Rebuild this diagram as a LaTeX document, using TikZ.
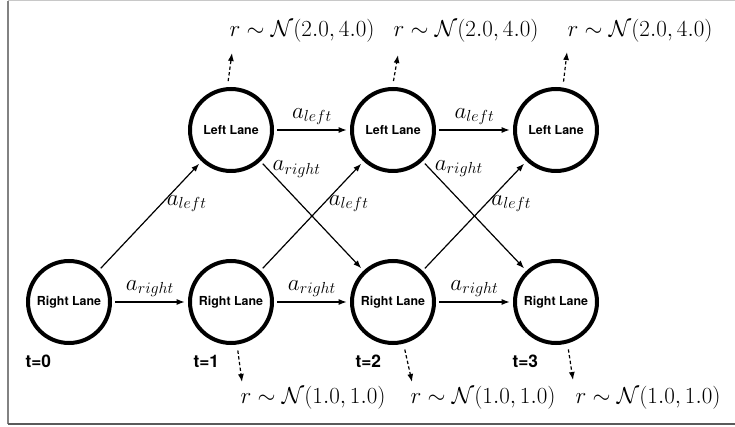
\documentclass[tikz,border=0pt]{standalone}
\usepackage{fontspec}
\newfontfamily\helv{TeX Gyre Heros}
\usetikzlibrary{arrows.meta}

\tikzset{every picture/.style={line width=0.75pt}}

\begin{document}
\begin{tikzpicture}[x=0.75pt,y=0.75pt,yscale=-1,xscale=1,
  lane/.style={draw,circle,line width=3pt,minimum size=61.5pt,inner sep=0pt,outer sep=4pt,font=\helv\bfseries\fontsize{9.3}{11}\selectfont},
  act/.style={-{Latex[length=6pt,width=4.5pt]},line width=0.9pt},
  rew/.style={act,dash pattern=on 2.5pt off 1.8pt,shorten <=2pt},
  lbl/.style={font=\fontsize{16.5}{19}\selectfont},
  rlbl/.style={lbl,inner sep=0pt},
  tlab/.style={font=\helv\bfseries\fontsize{13}{15}\selectfont,anchor=west,inner sep=0pt}]
\useasboundingbox (0,0) rectangle (735,427);

%Frame
\draw [color={rgb, 255:red, 200; green, 200; blue, 200 }] (8,1) -- (735,1) ;
\draw [color={rgb, 255:red, 130; green, 130; blue, 130 },line width=1.5] (8,1) -- (8,424) ;
\draw [color={rgb, 255:red, 90; green, 90; blue, 90 },line width=1.5] (8,424) -- (735,424) ;

%States
\node [lane] (l1) at (231,130) {Left Lane};
\node [lane] (l2) at (393,130) {Left Lane};
\node [lane] (l3) at (556,130) {Left Lane};
\node [lane] (r0) at (69,302) {Right Lane};
\node [lane] (r1) at (231,302) {Right Lane};
\node [lane] (r2) at (393,302) {Right Lane};
\node [lane] (r3) at (556,302) {Right Lane};

% Text Node
\node [tlab] (t0) at (25,361) {t=0};
\node [tlab] (t1) at (193,361) {t=1};
\node [tlab] (t2) at (355,361) {t=2};
\node [tlab] (t3) at (512,361) {t=3};

%Actions
\draw [act] (r0) -- node [lbl,above] {$a_{right}$} (r1) ;
\draw [act] (r1) -- node [lbl,above] {$a_{right}$} (r2) ;
\draw [act] (r2) -- node [lbl,above] {$a_{right}$} (r3) ;
\draw [act] (l1) -- node [lbl,above] {$a_{left}$} (l2) ;
\draw [act] (l2) -- node [lbl,above] {$a_{left}$} (l3) ;
\draw [act] (r0) -- node [lbl,pos=0.62,right] {$a_{left}$} (l1) ;
\draw [act] (r1) -- node [lbl,pos=0.62,right] {$a_{left}$} (l2) ;
\draw [act] (r2) -- node [lbl,pos=0.62,right] {$a_{left}$} (l3) ;
\draw [act] (l1) -- node [lbl,pos=0.05,right] {$a_{right}$} (r2) ;
\draw [act] (l2) -- node [lbl,pos=0.05,right] {$a_{right}$} (r3) ;

%Rewards
\node [rlbl,anchor=south west] (rl1) at (229,43) {$r \sim \mathcal{N}(2.0, 4.0)$};
\node [rlbl,anchor=south west] (rl2) at (393,43) {$r \sim \mathcal{N}(2.0, 4.0)$};
\node [rlbl,anchor=south west] (rl3) at (567,43) {$r \sim \mathcal{N}(2.0, 4.0)$};
\node [rlbl,anchor=north west] (rr1) at (240,386) {$r \sim \mathcal{N}(1.0, 1.0)$};
\node [rlbl,anchor=north west] (rr2) at (410,386) {$r \sim \mathcal{N}(1.0, 1.0)$};
\node [rlbl,anchor=north west] (rr3) at (575,386) {$r \sim \mathcal{N}(1.0, 1.0)$};
\coordinate (tl1) at (232,53);
\coordinate (tl2) at (398,55);
\coordinate (tl3) at (567,52);
\coordinate (tr1) at (242,382);
\coordinate (tr2) at (412,382);
\coordinate (tr3) at (573,380);
\draw [rew] (l1.94) -- (tl1) ;
\draw [rew] (l2.90) -- (tl2) ;
\draw [rew] (l3.81) -- (tl3) ;
\draw [rew] (r1.-82) -- (tr1) ;
\draw [rew] (r2.-76) -- (tr2) ;
\draw [rew] (r3.-75) -- (tr3) ;

\end{tikzpicture}
\end{document}
